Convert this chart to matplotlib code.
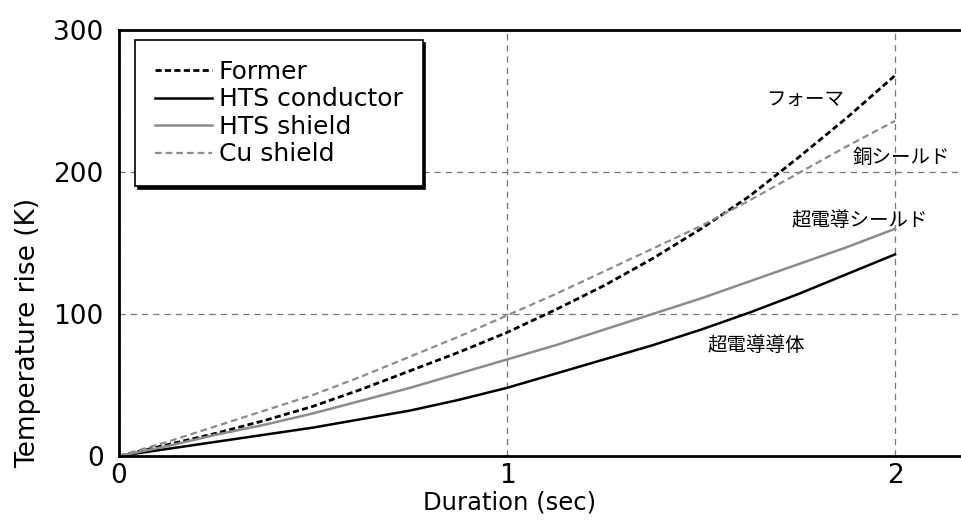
import matplotlib.pyplot as plt

plt.rcParams['font.family'] = ['DejaVu Sans', 'Noto Sans CJK JP']

# duration (sec) and temperature rise (K)
duration = [0, 0.125, 0.25, 0.375, 0.5, 0.625, 0.75, 0.875, 1.0,
            1.125, 1.25, 1.375, 1.5, 1.625, 1.75, 1.875, 2.0]
former = [0, 8, 16, 25, 35, 47, 60, 73, 87,
          103, 120, 139, 160, 183, 210, 238, 268]
hts_conductor = [0, 5, 10, 15, 20, 26, 32, 39.5, 48,
                 58, 68, 78, 89, 101, 114, 128, 142]
hts_shield = [0, 7, 15, 22, 30, 39, 48, 58, 68,
              78, 89, 100, 111, 123, 135, 147, 160]
cu_shield = [0, 10, 21, 32, 43, 56, 70, 84, 99,
             114, 130, 146, 162, 180, 199, 218, 236]

x_ticks = [0, 1, 2]
y_ticks = [0, 100, 200, 300]

fig = plt.figure(figsize=(9.61, 5.25), dpi=100)
ax = fig.add_axes([0.1238, 0.1314, 0.8762, 0.8114])

ax.plot(duration, former, ls=(0, (2.2, 1.2)), c='black', lw=2.0, label='Former')
ax.plot(duration, hts_conductor, c='black', lw=1.8, label='HTS conductor')
ax.plot(duration, hts_shield, c='#8c8c8c', lw=1.8, label='HTS shield')
ax.plot(duration, cu_shield, ls=(0, (3, 1.8)), c='#8c8c8c', lw=1.6, label='Cu shield')

ax.set_xlim(0, 2.17)
ax.set_ylim(0, 300)
ax.set_xticks(x_ticks)
ax.set_yticks(y_ticks)
ax.tick_params(length=0, labelsize=19)
ax.tick_params(axis='x', pad=5)
ax.tick_params(axis='y', pad=11)
ax.grid(ls=(0, (5, 4)), c='#777777', lw=0.9)

for side in ('left', 'bottom', 'top'):
    ax.spines[side].set_linewidth(2)
ax.spines['right'].set_visible(False)

ax.set_xlabel('Duration (sec)', fontsize=17.5)
ax.xaxis.set_label_coords(0.464, -0.08)
ax.set_ylabel('Temperature rise (K)', fontsize=19)
ax.yaxis.set_label_coords(-0.093, 0.29)

leg = ax.legend(loc='upper left', bbox_to_anchor=(0.019, 0.977), fontsize=18,
                handlelength=2.3, handletextpad=0.25, labelspacing=0.14,
                fancybox=False, shadow={'color': 'black', 'alpha': 1},
                borderpad=0.8, borderaxespad=0, edgecolor='black', framealpha=1)
leg.get_frame().set_linewidth(1.2)

jp = ['Noto Sans CJK JP']
ax.text(1.768, 251, 'フォーマ', fontsize=14, family=jp, va='center', ha='center')
ax.text(2.015, 210, '銅シールド', fontsize=14, family=jp, va='center', ha='center')
ax.text(1.91, 166, '超電導シールド', fontsize=14, family=jp, va='center', ha='center')
ax.text(1.642, 78, '超電導導体', fontsize=14, family=jp, va='center', ha='center')

plt.savefig('out.png')
